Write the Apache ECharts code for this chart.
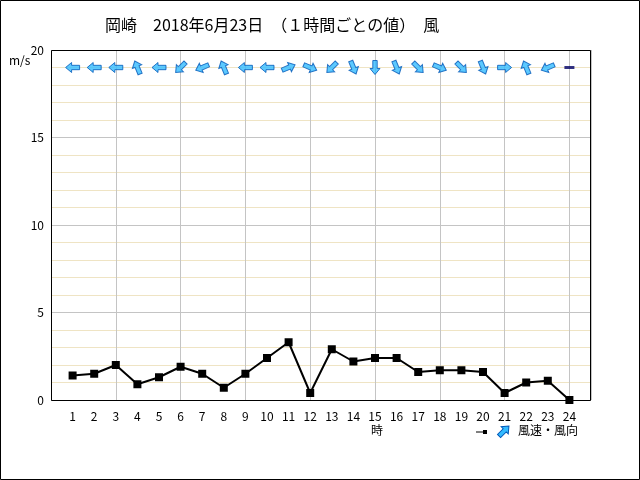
<!DOCTYPE html>
<html><head><meta charset="utf-8">
<script src="https://cdn.jsdelivr.net/npm/echarts@6/dist/echarts.min.js"></script>
<style>html,body{margin:0;padding:0;background:#fff}#c{width:640px;height:480px}</style>
</head><body><div id="c"></div>
<script>
const hours = [1,2,3,4,5,6,7,8,9,10,11,12,13,14,15,16,17,18,19,20,21,22,23,24];
const speed = [1.4,1.5,2.0,0.9,1.3,1.9,1.5,0.7,1.5,2.4,3.3,0.4,2.9,2.2,2.4,2.4,1.6,1.7,1.7,1.6,0.4,1.0,1.1,0.0];
// direction the arrow points, in degrees counterclockwise from "up"; null = calm
const arrowRot = [90,90,90,22.5,90,135,112.5,22.5,90,90,-67.5,-112.5,135,-157.5,180,-157.5,-135,-112.5,-135,-157.5,-90,22.5,112.5,null];
const yTicks = [0,5,10,15,20];
const title = '岡崎　2018年6月23日　（１時間ごとの値）　風';

const FONT = '"Noto Sans CJK JP", sans-serif';
const ARROW = 'path://M5,0 L10,6 L7.2,6 L7.2,14 L2.8,14 L2.8,6 L0,6 Z';
const ARROW_Y = 19;

const arrowData = hours.map((h, i) => arrowRot[i] === null
  ? {value: [h, ARROW_Y], symbol: 'rect', symbolSize: [10, 3], symbolKeepAspect: false, symbolRotate: 0, itemStyle: {color: '#000066', borderWidth: 0}}
  : {value: [h, ARROW_Y], symbolRotate: arrowRot[i]});

const chart = echarts.init(document.getElementById('c'), null, {renderer: 'canvas'});
chart.setOption({
  animation: false,
  backgroundColor: '#fff',
  title: {text: title, left: 100, top: 12, textStyle: {fontFamily: FONT, fontSize: 16, fontWeight: 'normal', color: '#000'}},
  grid: {left: 51, right: 49, top: 50, bottom: 80, show: false},
  xAxis: [
    {type: 'value', min: 0, max: 25, interval: 1,
     axisLine: {show: false}, axisTick: {show: false}, splitLine: {show: false},
     axisLabel: {fontFamily: FONT, fontSize: 12, color: '#000', margin: 10,
       formatter: v => (v >= 1 && v <= 24) ? String(v) : ''}},
    {type: 'value', min: 0, max: 25, interval: 3, position: 'bottom', show: true,
     axisLine: {show: false}, axisTick: {show: false}, axisLabel: {show: false},
     splitLine: {show: true, lineStyle: {color: '#c4c4c4', width: 1}}}
  ],
  yAxis: {type: 'value', min: 0, max: 20, interval: 5,
    axisLine: {show: false}, axisTick: {show: false},
    axisLabel: {fontFamily: FONT, fontSize: 12, color: '#000', margin: 7},
    splitLine: {show: true, lineStyle: {color: '#c4c4c4', width: 1}},
    minorTick: {show: false, splitNumber: 5},
    minorSplitLine: {show: true, lineStyle: {color: '#efe4c4', width: 1}}},
  series: [
    {type: 'line', xAxisIndex: 0, data: hours.map((h, i) => [h, speed[i]]),
     symbol: 'rect', symbolSize: 8, showSymbol: true,
     lineStyle: {color: '#000', width: 2}, itemStyle: {color: '#000'}, z: 5},
    {type: 'scatter', xAxisIndex: 0, data: arrowData,
     symbol: ARROW, symbolSize: 14, symbolKeepAspect: true,
     itemStyle: {color: '#33bbff', borderColor: '#0058b8', borderWidth: 1}, z: 6}
  ],
  graphic: [
    {type: 'rect', shape: {x: 51.5, y: 50.5, width: 539, height: 350}, style: {fill: 'none', stroke: '#000', lineWidth: 1}, z: 10},
    {type: 'rect', shape: {x: 0.5, y: 0.5, width: 639, height: 479}, style: {fill: 'none', stroke: '#000', lineWidth: 1}, z: 10},
    {type: 'text', x: 9, y: 54, style: {text: 'm/s', font: '12px ' + FONT, fill: '#000'}},
    {type: 'text', x: 371, y: 424, style: {text: '時', font: '12px ' + FONT, fill: '#000'}},
    {type: 'line', shape: {x1: 476, y1: 432, x2: 486, y2: 432}, style: {stroke: '#000', lineWidth: 1}},
    {type: 'rect', shape: {x: 483, y: 430, width: 4, height: 4}, style: {fill: '#000'}},
    {type: 'polygon', x: 504, y: 431, rotation: -Math.PI / 4,
     shape: {points: [[0,-7],[5,-1],[2.2,-1],[2.2,7],[-2.2,7],[-2.2,-1],[-5,-1]]},
     style: {fill: '#33bbff', stroke: '#0058b8', lineWidth: 1}},
    {type: 'text', x: 518, y: 424, style: {text: '風速・風向', font: '12px ' + FONT, fill: '#000'}}
  ]
});
</script></body></html>
